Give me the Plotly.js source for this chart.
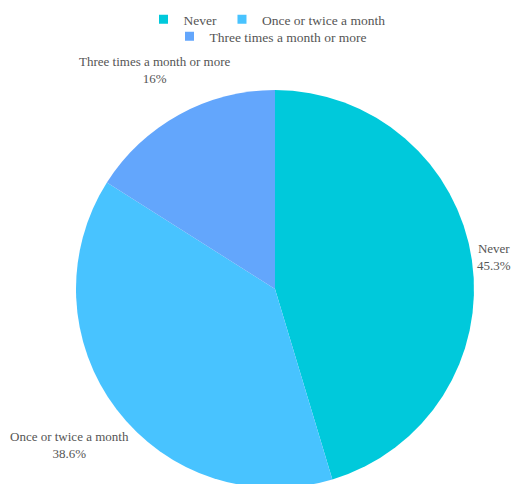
<!DOCTYPE html>
<html>
<head>
<meta charset="utf-8">
<script src="https://cdn.plot.ly/plotly-3.0.1.min.js"></script>
<style>
html, body { margin: 0; padding: 0; overflow: hidden; background: #fff; }
#chart { width: 511px; height: 488px; }
</style>
</head>
<body>
<div id="chart"></div>
<script>
const categories = ["Never", "Once or twice a month", "Three times a month or more"];
const shares = [45.3, 38.6, 16.0];
const sliceColors = ["#00C9DB", "#48C3FF", "#63A6FC"];
const legendGroups = ["legend", "legend", "legend2"];

const FONT = "'Liberation Serif', 'Times New Roman', 'DejaVu Serif', serif";
const LABEL_SIZE = 13;
const labelFont = { family: FONT, size: LABEL_SIZE, color: "#555" };

// figure geometry
const W = 511, H = 488;
const M = { l: 76, r: 37, t: 0, b: 0 };
const plotW = W - M.l - M.r;          // 398
const plotH = H - M.t - M.b;          // 488
const pieDomainY = [0, plotW / plotH];
const R = plotW / 2;
const cx = M.l + plotW / 2;
const cy = M.t + plotH * (1 - (pieDomainY[0] + pieDomainY[1]) / 2);

const pie = {
  type: "pie",
  labels: categories,
  values: shares,
  marker: { colors: sliceColors },
  sort: false,
  direction: "clockwise",
  rotation: 0,
  textinfo: "none",
  domain: { x: [0, 1], y: pieDomainY },
  showlegend: false,
  hoverinfo: "label+percent"
};

// legend-only entries (no drawn data) so the legend can wrap like the reference
const legendEntries = categories.map((name, i) => ({
  type: "scatter",
  mode: "markers",
  x: [null],
  y: [null],
  name: name,
  legend: legendGroups[i],
  marker: { symbol: "square", size: 9, color: sliceColors[i] },
  hoverinfo: "skip",
  showlegend: true
}));

// outside labels placed along each slice's mid-angle ray
const ctx = document.createElement("canvas").getContext("2d");
ctx.font = LABEL_SIZE + "px " + FONT;
const total = shares.reduce((a, b) => a + b, 0);
function fmtPct(v) {
  let t = (v / total * 100).toPrecision(3);
  if (t.indexOf(".") !== -1) t = t.replace(/[.]?0+$/, "");
  return t + "%";
}
let cum = 0;
const annotations = shares.map((v, i) => {
  const mid = (cum + v / 2) / total * 2 * Math.PI;
  cum += v;
  const dx = Math.sin(mid), dy = -Math.cos(mid);
  const pct = fmtPct(v);
  const w = Math.max(ctx.measureText(categories[i]).width, ctx.measureText(pct).width);
  const halfH = 12;
  const dist = R + 4 + Math.abs(dx) * w / 2 + Math.abs(dy) * halfH;
  const px = cx + dx * dist, py = cy + dy * dist;
  return {
    xref: "paper", yref: "paper",
    x: (px - M.l) / plotW,
    y: 1 - (py - M.t) / plotH,
    xanchor: "center", yanchor: "middle",
    showarrow: false,
    align: "center",
    text: categories[i] + "<br>" + pct,
    font: labelFont
  };
});

const legendFont = { family: FONT, size: 13.5, color: "#555" };

const layout = {
  width: W,
  height: H,
  margin: M,
  paper_bgcolor: "#fff",
  plot_bgcolor: "rgba(0,0,0,0)",
  font: labelFont,
  xaxis: { visible: false },
  yaxis: { visible: false },
  annotations: annotations,
  legend: {
    orientation: "h",
    x: 0.5 - 8 / plotW, xanchor: "center",
    y: 1 - 4 / plotH, yanchor: "top",
    bgcolor: "rgba(0,0,0,0)",
    font: legendFont,
    itemclick: false, itemdoubleclick: false
  },
  legend2: {
    orientation: "h",
    x: 0.5 - 4 / plotW, xanchor: "center",
    y: 1 - 21 / plotH, yanchor: "top",
    bgcolor: "rgba(0,0,0,0)",
    font: legendFont,
    itemclick: false, itemdoubleclick: false
  }
};

Plotly.newPlot("chart", [pie].concat(legendEntries), layout, { displayModeBar: false, staticPlot: true });
</script>
</body>
</html>
